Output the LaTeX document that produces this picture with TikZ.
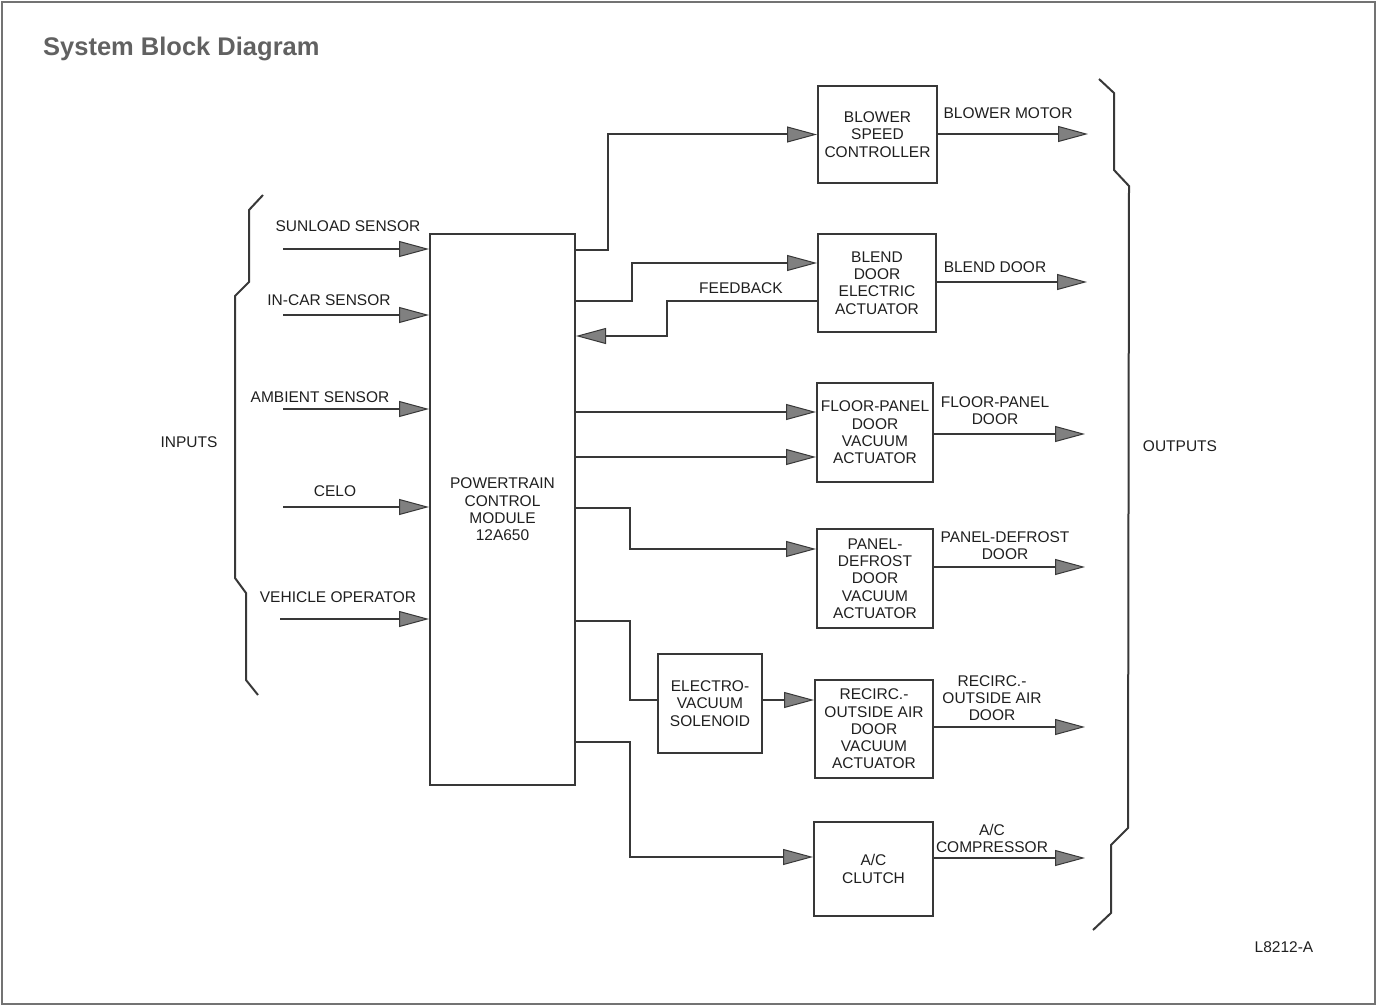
\documentclass[tikz,border=0pt]{standalone}
\usepackage{fontspec}
\setmainfont{Liberation Sans}
\usetikzlibrary{arrows.meta}
\newcommand\lblfont{\fontsize{15.5}{17.3}\selectfont}
\begin{document}
\begin{tikzpicture}[x=1pt,y=-1pt,
  ln/.style={draw=black!78, line width=2pt},
  arr/.style={ln, -{Triangle[length=30pt,width=16pt,fill=black!50,line width=1pt]}},
  box/.style={draw=black!78, line width=2pt, inner sep=0pt, align=center, font=\lblfont, text=black!88},
  lbl/.style={font=\lblfont, text=black!88, inner sep=0pt, align=center}]
\useasboundingbox (0,0) rectangle (1377,1006);
\draw[black!55, line width=1.4pt] (2,2) rectangle (1375,1004);
\node[anchor=base west, font=\bfseries\fontsize{25.5}{28}\selectfont, text=black!62, inner sep=0pt] (title) at (43,56) {System Block Diagram};

% boxes
\node[box, minimum width=145pt, minimum height=551pt] (pcm) at (502.5,509.5) {POWERTRAIN\\CONTROL\\MODULE\\12A650};
\node[box, minimum width=119pt, minimum height=97pt] (blower) at (877.5,134.5) {BLOWER\\SPEED\\CONTROLLER};
\node[box, minimum width=118pt, minimum height=98pt] (blend) at (877,283) {BLEND\\DOOR\\ELECTRIC\\ACTUATOR};
\node[box, minimum width=116pt, minimum height=99pt] (floor) at (875,432.5) {FLOOR-PANEL\\DOOR\\VACUUM\\ACTUATOR};
\node[box, minimum width=116pt, minimum height=99pt] (defrost) at (875,578.5) {PANEL-\\DEFROST\\DOOR\\VACUUM\\ACTUATOR};
\node[box, minimum width=104pt, minimum height=99pt] (electro) at (710,703.5) {ELECTRO-\\VACUUM\\SOLENOID};
\node[box, minimum width=118pt, minimum height=98pt] (recirc) at (874,729) {RECIRC.-\\OUTSIDE AIR\\DOOR\\VACUUM\\ACTUATOR};
\node[box, minimum width=119pt, minimum height=94pt] (ac) at (873.5,869) {A/C\\CLUTCH};

% input labels and arrows
\node[lbl, anchor=base] (l1) at (348,231.5) {SUNLOAD SENSOR};
\node[lbl, anchor=base] (l2) at (329,305.5) {IN-CAR SENSOR};
\node[lbl, anchor=base] (l3) at (320,402.5) {AMBIENT SENSOR};
\node[lbl, anchor=base] (l4) at (335,496.5) {CELO};
\node[lbl, anchor=base] (l5) at (338,602.5) {VEHICLE OPERATOR};
\coordinate (i1) at (283,249);
\coordinate (i2) at (283,315);
\coordinate (i3) at (283,409);
\coordinate (i4) at (283,507);
\coordinate (i5) at (280,619);
\foreach \c in {i1,i2,i3,i4,i5} \draw[arr] (\c) -- (pcm.west |- \c);

% braces
\draw[ln, line join=miter] (263,195) -- (249,210) -- (249,282) -- (235,296) -- (235,578) -- (246,593) -- (246,680) -- (258,695);
\draw[ln, line join=miter] (1099,79) -- (1114,93) -- (1114,170) -- (1129,186) -- (1128,828) -- (1111,845) -- (1111,913) -- (1093,930);
\node[lbl, anchor=base] (inputs) at (189,447.5) {INPUTS};
\node[lbl, anchor=base] (outputs) at (1180,451.5) {OUTPUTS};

% PCM to actuators
\draw[arr] (pcm.east |- 0,250) -- (608,250) |- (blower.west);
\draw[arr] (pcm.east |- 0,301) -- (632,301) |- (blend.west |- 0,263);
\draw[arr] (blend.west |- 0,301) -- (667,301) |- (pcm.east |- 0,336);
\node[lbl, anchor=base] (fb) at (741,293.5) {FEEDBACK};
\draw[arr] (pcm.east |- 0,412) -- (floor.west |- 0,412);
\draw[arr] (pcm.east |- 0,457) -- (floor.west |- 0,457);
\draw[arr] (pcm.east |- 0,508) -- (630,508) |- (defrost.west |- 0,549);
\draw[ln] (pcm.east |- 0,621) -- (630,621) |- (electro.west |- 0,700);
\draw[arr] (electro.east |- 0,700) -- (recirc.west |- 0,700);
\draw[arr] (pcm.east |- 0,742) -- (630,742) |- (ac.west |- 0,857);

% outputs
\coordinate (o1) at (1088,134);
\coordinate (o2) at (1087,282);
\coordinate (o3) at (1085,434);
\coordinate (o4) at (1085,567);
\coordinate (o5) at (1085,727);
\coordinate (o6) at (1085,858);
\draw[arr] (blower.east |- o1) -- (o1);
\draw[arr] (blend.east |- o2) -- (o2);
\draw[arr] (floor.east |- o3) -- (o3);
\draw[arr] (defrost.east |- o4) -- (o4);
\draw[arr] (recirc.east |- o5) -- (o5);
\draw[arr] (ac.east |- o6) -- (o6);
\node[lbl, anchor=base] (t1) at (1008,118.5) {BLOWER MOTOR};
\node[lbl, anchor=base] (t2) at (995,272.5) {BLEND DOOR};
\node[lbl] (t3) at (995,410.5) {FLOOR-PANEL\\DOOR};
\node[lbl] (t4) at (1005,545.5) {PANEL-DEFROST\\DOOR};
\node[lbl] (t5) at (992,698) {RECIRC.-\\OUTSIDE AIR\\DOOR};
\node[lbl] (t6) at (992,838.5) {A/C\\COMPRESSOR};
\node[lbl, anchor=base] (ref) at (1284,952.5) {L8212-A};
\end{tikzpicture}
\end{document}
